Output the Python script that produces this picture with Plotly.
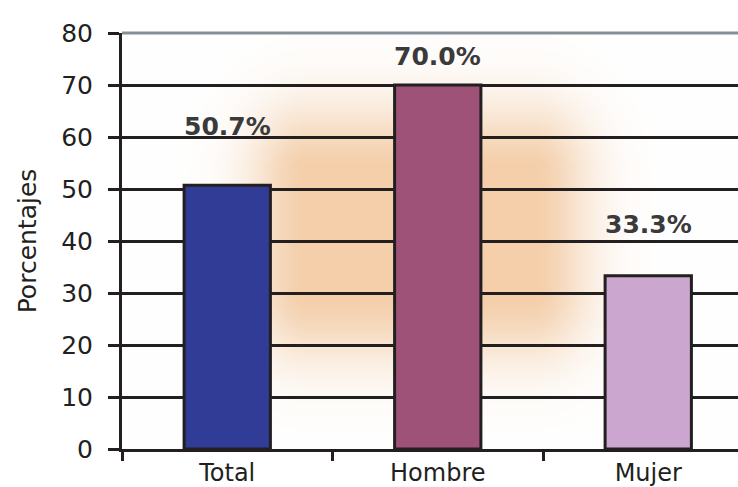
import base64
import struct
import zlib

import numpy as np
import plotly.graph_objects as go

# ---- data ----
categories = ["Total", "Hombre", "Mujer"]
values = [50.7, 70.0, 33.3]
value_labels = ["50.7%", "70.0%", "33.3%"]
y_ticks = [0, 10, 20, 30, 40, 50, 60, 70, 80]

bar_colors = ["#303C96", "#9E5278", "#CBA6CF"]
label_shift = [59, 29, 51]  # pixel offset of labels above bars

W, H = 738, 487
L, R, T, B = 122, 0, 33, 38
PW, PH = W - L - R, H - T - B


# ---- soft orange glow background (generated PNG) ----
def make_png(rgb):
    h, w, _ = rgb.shape
    raw = b"".join(b"\x00" + rgb[i].astype(np.uint8).tobytes() for i in range(h))

    def chunk(tag, data):
        c = struct.pack(">I", len(data)) + tag + data
        return c + struct.pack(">I", zlib.crc32(tag + data) & 0xFFFFFFFF)

    png = b"\x89PNG\r\n\x1a\n"
    png += chunk(b"IHDR", struct.pack(">IIBBBBB", w, h, 8, 2, 0, 0, 0))
    png += chunk(b"IDAT", zlib.compress(raw, 9))
    png += chunk(b"IEND", b"")
    return "data:image/png;base64," + base64.b64encode(png).decode()


scale = 4
iw, ih = PW // scale, PH // scale
xs = (np.arange(iw) + 0.5) * scale + L
ys = (np.arange(ih) + 0.5) * scale + T


def soft(v, a, b, s):
    d = np.maximum(0, np.maximum(a - v, v - b))
    return np.exp(-(d / s) ** 2)


gx = soft(xs, 310, 530, 60)
gy = soft(ys, 175, 290, 70)
I = np.outer(gy, gx)[..., None]
orange = np.array([244, 207, 170], dtype=float)
white = np.array([255, 255, 255], dtype=float)
img = white * (1 - I) + orange * I
src = make_png(np.clip(img, 0, 255))

fig = go.Figure(
    go.Bar(
        x=categories,
        y=values,
        marker=dict(color=bar_colors, line=dict(color="#231F20", width=3)),
        width=0.41,
        hoverinfo="skip",
    )
)

for c, v, t, s in zip(categories, values, value_labels, label_shift):
    fig.add_annotation(
        x=c, y=v, text=t, showarrow=False, yanchor="middle", yshift=s,
        font=dict(family="DejaVu Sans", size=25, color="#3A3A3A", weight="bold"),
    )

fig.add_layout_image(
    source=src, xref="paper", yref="paper", x=0, y=1, sizex=1, sizey=1,
    sizing="stretch", xanchor="left", yanchor="top", layer="below",
)

fig.add_shape(
    type="line", xref="paper", yref="paper", x0=0, x1=1, y0=1, y1=1,
    line=dict(color="#858F98", width=3), layer="above",
)

fig.update_layout(
    width=W, height=H,
    margin=dict(l=L, r=R, t=T, b=B, autoexpand=False),
    paper_bgcolor="white", plot_bgcolor="white",
    showlegend=False,
    font=dict(family="DejaVu Sans", color="#231F20"),
    xaxis=dict(
        type="category", range=[-0.5, -0.5 + PW / 210.5],
        tickson="boundaries", ticks="outside", ticklen=9, tickwidth=3,
        tickcolor="#231F20", showline=True, linecolor="#231F20", linewidth=3,
        showgrid=False, tickfont=dict(size=24, color="#231F20"),
        automargin=False,
    ),
    yaxis=dict(
        range=[0, 80], tickvals=y_ticks, ticktext=[str(v) for v in y_ticks],
        showgrid=True, gridcolor="#231F20", gridwidth=3,
        showline=True, linecolor="#231F20", linewidth=3,
        ticks="outside", ticklen=11, tickwidth=3, tickcolor="#231F20",
        ticklabelstandoff=10, zeroline=False,
        tickfont=dict(size=25, color="#231F20"),
        title=dict(text="Porcentajes", font=dict(size=25, color="#231F20"), standoff=18),
        automargin=False,
    ),
)

fig.write_html(
    "out.html",
    config={"displayModeBar": False},
    post_script="document.body.style.margin='0';document.body.style.overflow='hidden';",
)
